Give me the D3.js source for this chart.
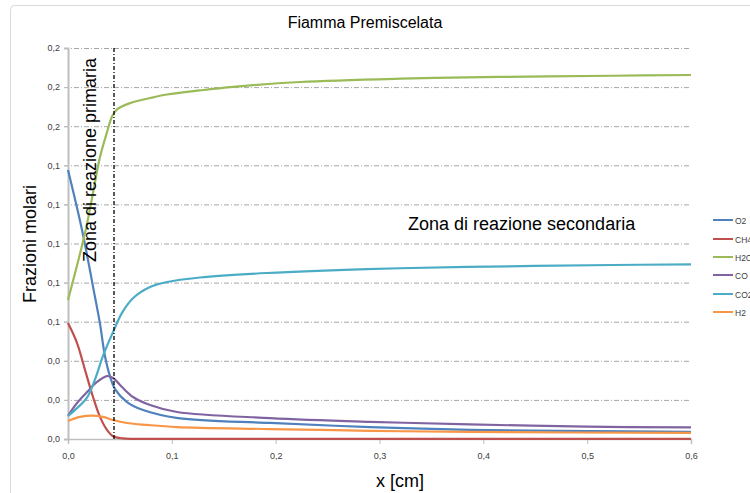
<!DOCTYPE html>
<html><head><meta charset="utf-8">
<script src="https://cdn.jsdelivr.net/npm/d3@7"></script>
<style>body{margin:0;background:#fff;overflow:hidden}text{font-family:"Liberation Sans",Arial,sans-serif}</style>
</head><body><svg id="c" width="750" height="493"></svg>
<script>
const title = "Fiamma Premiscelata";
const xLabel = "x [cm]";
const yLabel = "Frazioni molari";
const noteLeft = "Zona di reazione primaria";
const noteRight = "Zona di reazione secondaria";
const yTicks = [0,0.02,0.04,0.06,0.08,0.10,0.12,0.14,0.16,0.18,0.20];
const xTicks = [0,0.1,0.2,0.3,0.4,0.5,0.6];
const markerX = 0.0443;

const seriesNames = ["O2","CH4","H2O","CO","CO2","H2"];
const seriesColors = ["#4F81BD","#C0504D","#9BBB59","#8064A2","#4BACC6","#F79646"];

const o2X  = [0,0.0135,0.026,0.0308,0.0356,0.0405,0.0453,0.0568,0.0723,0.106,0.1946,0.291,0.387,0.501,0.6];
const o2Y  = [0.1376,0.1069,0.0726,0.0590,0.0425,0.0320,0.0255,0.0189,0.0148,0.0107,0.0082,0.0061,0.0047,0.0041,0.0036];
const ch4X = [0,0.0087,0.0164,0.0241,0.0308,0.0376,0.0434,0.053,0.1,0.3,0.6];
const ch4Y = [0.0593,0.0491,0.0353,0.0215,0.0113,0.0046,0.0014,0.0003,0.0001,0.0001,0.0001];
const h2oX = [0,0.0164,0.0241,0.0308,0.0376,0.0424,0.0472,0.0597,0.079,0.0954,0.127,0.159,0.2235,0.32,0.416,0.525,0.6];
const h2oY = [0.0711,0.1054,0.1258,0.1442,0.1570,0.1650,0.1686,0.1718,0.1744,0.1762,0.1783,0.1801,0.1826,0.1843,0.1852,0.1858,0.1862];
const coX  = [0,0.0087,0.0183,0.0279,0.0376,0.0434,0.052,0.0626,0.079,0.105,0.1946,0.291,0.387,0.5,0.6];
const coY  = [0.0118,0.0184,0.024,0.0292,0.0322,0.0312,0.0266,0.0215,0.0174,0.0138,0.0107,0.0088,0.0075,0.0063,0.0059];
const co2X = [0,0.0087,0.0183,0.026,0.0337,0.0443,0.052,0.0626,0.079,0.0954,0.127,0.1917,0.288,0.3844,0.525,0.6];
const co2Y = [0.0118,0.0158,0.0212,0.0305,0.0425,0.0558,0.0645,0.0720,0.0777,0.0803,0.0826,0.0849,0.0869,0.0880,0.0890,0.0893];
const h2X  = [0,0.0116,0.0241,0.0337,0.0434,0.0568,0.0761,0.105,0.1946,0.291,0.387,0.6];
const h2Y  = [0.0092,0.0113,0.012,0.0113,0.0097,0.0082,0.0072,0.0061,0.0051,0.0042,0.0036,0.0031];

const seriesX = [o2X,ch4X,h2oX,coX,co2X,h2X];
const seriesY = [o2Y,ch4Y,h2oY,coY,co2Y,h2Y];

const svg = d3.select("#c");
const x = d3.scaleLinear().domain([0,0.6]).range([68,691]);
const y = d3.scaleLinear().domain([0,0.2]).range([439,48]);
const fmt = v => d3.format(".1f")(v).replace(".",",");

svg.append("rect").attr("x",10.5).attr("y",5.5).attr("width",800).attr("height",520)
  .attr("rx",4).attr("fill","#fff").attr("stroke","#d9d9d9");

// gridlines
svg.append("g").selectAll("line").data(yTicks.slice(1)).join("line")
  .attr("x1",64).attr("x2",691).attr("y1",d=>y(d)+0.5).attr("y2",d=>y(d)+0.5)
  .attr("stroke","#a6a6a6").attr("stroke-width",1).attr("stroke-dasharray","5,2,1,2");

// y axis
const ya = svg.append("g").attr("transform","translate(68,0)")
  .call(d3.axisLeft(y).tickValues(yTicks).tickFormat(fmt).tickSize(4).tickPadding(4));
ya.select(".domain").attr("stroke","#bfbfbf").attr("stroke-width",2);
ya.selectAll(".tick line").attr("stroke","#bfbfbf");
ya.selectAll(".tick text").attr("fill","#404040").style("font-size","9px");

// x axis
const xa = svg.append("g").attr("transform","translate(0,439)")
  .call(d3.axisBottom(x).tickValues(xTicks).tickFormat(fmt).tickSize(5).tickPadding(9));
xa.select(".domain").attr("stroke","#bfbfbf").attr("stroke-width",1.5);
xa.selectAll(".tick line").attr("stroke","#bfbfbf");
xa.selectAll(".tick text").attr("fill","#404040").style("font-size","9px");

// series
const line = d3.line().x(d=>x(d[0])).y(d=>y(d[1])).curve(d3.curveCatmullRom.alpha(0.5));
seriesNames.forEach((n,i)=>{
  const pts = seriesX[i].map((v,j)=>[v,seriesY[i][j]]);
  svg.append("path").datum(pts).attr("d",line).attr("fill","none")
    .attr("stroke",seriesColors[i]).attr("stroke-width",2.2).attr("stroke-linejoin","round");
});

// vertical marker
svg.append("line").attr("x1",x(markerX)).attr("x2",x(markerX)).attr("y1",y(0.2)).attr("y2",y(0))
  .attr("stroke","#000").attr("stroke-width",1.3).attr("stroke-dasharray","4,2,1,2");

// texts
svg.append("text").attr("x",365).attr("y",28).attr("text-anchor","middle")
  .style("font-size","16px").attr("fill","#000").text(title);
svg.append("text").attr("transform","translate(36,244) rotate(-90)").attr("text-anchor","middle")
  .style("font-size","18px").attr("fill","#000").text(yLabel);
svg.append("text").attr("x",400).attr("y",487).attr("text-anchor","middle")
  .style("font-size","18px").attr("fill","#000").text(xLabel);
svg.append("text").attr("transform","translate(96,262) rotate(-90)").attr("text-anchor","start")
  .style("font-size","18px").attr("fill","#000").text(noteLeft);
svg.append("text").attr("x",408).attr("y",230)
  .style("font-size","18px").attr("fill","#000").text(noteRight);

// legend
const lg = svg.append("g");
const legY = [220,239,257,275,294,312];
seriesNames.forEach((n,i)=>{
  lg.append("line").attr("x1",713).attr("x2",733).attr("y1",legY[i]).attr("y2",legY[i])
    .attr("stroke",seriesColors[i]).attr("stroke-width",2);
  lg.append("text").attr("x",735).attr("y",legY[i]+3.5).style("font-size","8.5px")
    .attr("fill","#404040").text(n);
});
</script></body></html>
